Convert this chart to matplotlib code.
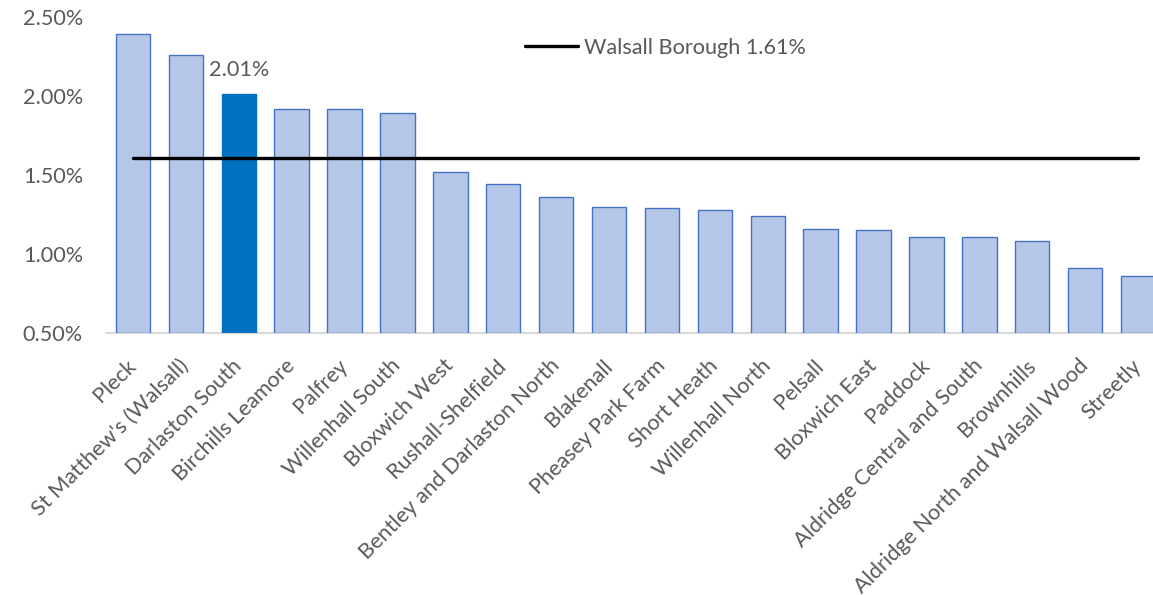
import matplotlib
matplotlib.use("Agg")
import matplotlib.pyplot as plt
from matplotlib.ticker import FuncFormatter, FixedLocator
from matplotlib.transforms import ScaledTranslation

wards = ["Pleck", "St Matthew's (Walsall)", "Darlaston South", "Birchills Leamore",
         "Palfrey", "Willenhall South", "Bloxwich West", "Rushall-Shelfield",
         "Bentley and Darlaston North", "Blakenall", "Pheasey Park Farm", "Short Heath",
         "Willenhall North", "Pelsall", "Bloxwich East", "Paddock",
         "Aldridge Central and South", "Brownhills", "Aldridge North and Walsall Wood",
         "Streetly"]
rates = [2.39, 2.26, 2.01, 1.92, 1.92, 1.89, 1.52, 1.44, 1.36, 1.30,
         1.29, 1.28, 1.24, 1.16, 1.15, 1.11, 1.11, 1.08, 0.91, 0.86]
highlight = "Darlaston South"
borough_label = "Walsall Borough 1.61%"
borough_rate = 1.61
yticks = [0.5, 1.0, 1.5, 2.0, 2.5]

W, H = 1153, 595
plt.rcParams['font.family'] = ['Lato', 'DejaVu Sans']
FS = 15.6
TXT = '#595959'

fig = plt.figure(figsize=(W / 100, H / 100), dpi=100)
ax = fig.add_axes([106.5 / W, 1 - 333.3 / H, (1164.5 - 106.5) / W, (333.3 - 16.7) / H])

x = list(range(len(wards)))
colors = ['#0070c0' if w == highlight else '#b4c7e7' for w in wards]
edges = ['#0070c0' if w == highlight else '#4472c4' for w in wards]
bars = ax.bar(x, [r - 0.5 for r in rates], bottom=0.5, width=0.65,
              color=colors, edgecolor=edges, linewidth=1.0, zorder=2)

ax.plot(x, [borough_rate] * len(x), color='black', linewidth=2.4,
        solid_capstyle='round', zorder=3, label=borough_label)

hi = wards.index(highlight)
ax.annotate(f"{rates[hi]:.2f}%", (hi, rates[hi]), xytext=(0, 14),
            textcoords='offset pixels', ha='center', va='bottom',
            fontsize=FS, color=TXT)

ax.set_xlim(-0.5, len(wards) - 0.5)
ax.set_ylim(0.5, 2.5)
ax.yaxis.set_major_locator(FixedLocator(yticks))
ax.yaxis.set_major_formatter(FuncFormatter(lambda v, p: f"{v:.2f}%"))
ax.tick_params(axis='y', length=0, pad=17, labelsize=FS, labelcolor=TXT)
ax.set_xticks(x)
ax.set_xticklabels(wards, rotation=45, ha='right', va='top',
                   rotation_mode='anchor', fontsize=FS, color=TXT)
ax.tick_params(axis='x', length=0, pad=16)
shift = ScaledTranslation(-7 / 100, 0, fig.dpi_scale_trans)
for lab in ax.get_xticklabels():
    lab.set_transform(lab.get_transform() + shift)

for s in ['top', 'right', 'left']:
    ax.spines[s].set_visible(False)
ax.spines['bottom'].set_color('#d9d9d9')
ax.spines['bottom'].set_linewidth(1.5)
ax.spines['bottom'].set_zorder(1)

fpx = FS * 100 / 72
leg = ax.legend(loc='center left', bbox_to_anchor=(525 / W, 1 - 48 / H),
                bbox_transform=fig.transFigure, frameon=False, borderpad=0,
                borderaxespad=0, handlelength=53 / fpx, handletextpad=6 / fpx,
                fontsize=FS)
for t in leg.get_texts():
    t.set_color(TXT)

fig.savefig("out.png", dpi=100)
